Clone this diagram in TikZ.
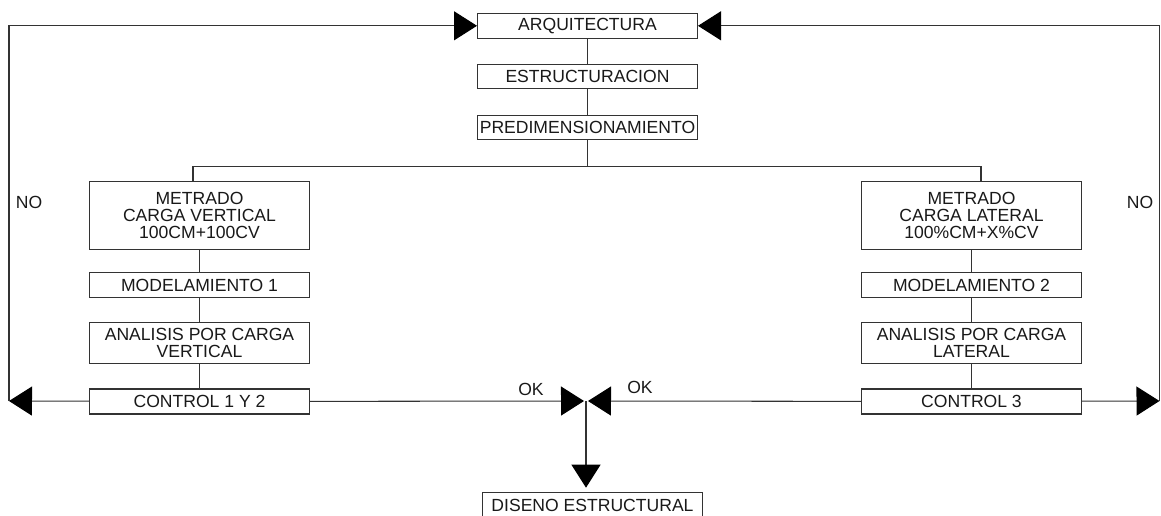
\documentclass[tikz,border=0pt]{standalone}
\usepackage{fontspec}
\setmainfont{Liberation Sans}
\usetikzlibrary{arrows.meta}
\colorlet{cline}{black!80}
\colorlet{ctext}{black!90}
\tikzset{
  sbox/.style={draw=cline, line width=0.6pt, fill=white, minimum width=4.4cm, minimum height=#1,
               inner sep=1pt, align=center, font=\fontsize{10}{9.6}\selectfont, text=ctext},
  sbox/.default=0.5cm,
  link/.style={line width=0.6pt, cline},
  flow/.style={-{Triangle[length=0.46cm,width=0.58cm,black]}, line width=0.6pt, cline},
  tag/.style={font=\fontsize{10}{9.6}\selectfont, text=ctext, inner sep=0pt},
}
\begin{document}
\begin{tikzpicture}[x=0.02cm, y=-0.02cm]
\useasboundingbox (0,0) rectangle (1161,515);
\clip (0,0) rectangle (1161,515);
% main column
\node[sbox] (arq) at (587.5,25.8) {ARQUITECTURA};
\node[sbox=0.48cm] (est) at (587.5,76.3) {ESTRUCTURACION};
\node[sbox=0.47cm] (pre) at (587.5,127.7) {PREDIMENSIONAMIENTO};
\draw[link] (arq) -- (est);
\draw[link] (est) -- (pre);
% vertical load branch
\node[sbox=1.35cm] (mv) at (199.5,215.3) {METRADO\\CARGA VERTICAL\\100CM+100CV};
\node[sbox=0.49cm] (m1) at (199.5,285) {MODELAMIENTO 1};
\node[sbox=0.82cm] (av) at (199.5,342.8) {ANALISIS POR CARGA\\VERTICAL};
\node[sbox] (c1) at (199.5,401.5) {CONTROL 1 Y 2};
% lateral load branch
\node[sbox=1.35cm] (ml) at (971.5,215.3) {METRADO\\CARGA LATERAL\\100\%CM+X\%CV};
\node[sbox=0.49cm] (m2) at (971.5,285) {MODELAMIENTO 2};
\node[sbox=0.82cm] (al) at (971.5,342.8) {ANALISIS POR CARGA\\LATERAL};
\node[sbox] (c3) at (971.5,401.5) {CONTROL 3};
\foreach \a/\b in {mv/m1,m1/av,av/c1,ml/m2,m2/al,al/c3} \draw[link] (\a) -- (\b);
% split below predimensioning
\coordinate (br) at (587.5,166.7);
\draw[link] (pre) -- (br);
\draw[link] ([xshift=-0.13cm]mv.north) |- (br) -| ([xshift=0.19cm]ml.north);
% NO loops back to the top
\coordinate (nol) at (9,401);
\coordinate (nor) at (1159.5,401);
\draw[flow] (c1) -- (nol);
\draw[flow] (nol) |- (arq.west);
\draw[flow] (c3) -- (nor);
\draw[flow] (nor) |- (arq.east);
\node[tag] (nl) at (29,202) {NO};
\node[tag] (nr) at (1140,202) {NO};
% OK to design
\coordinate (okl) at (584,401);
\coordinate (okr) at (588,401);
\coordinate (jn) at (586,401);
\draw[flow] (c1) -- (okl);
\draw[flow] (c3) -- (okr);
\node[tag] (okla) at (531,389) {OK};
\node[tag] (okra) at (640,387) {OK};
\node[sbox] (dis) at (592.5,505.2) {DISENO ESTRUCTURAL};
\draw[flow, shorten >=0.09cm] (jn) -- (jn |- dis.north);
\end{tikzpicture}
\end{document}
